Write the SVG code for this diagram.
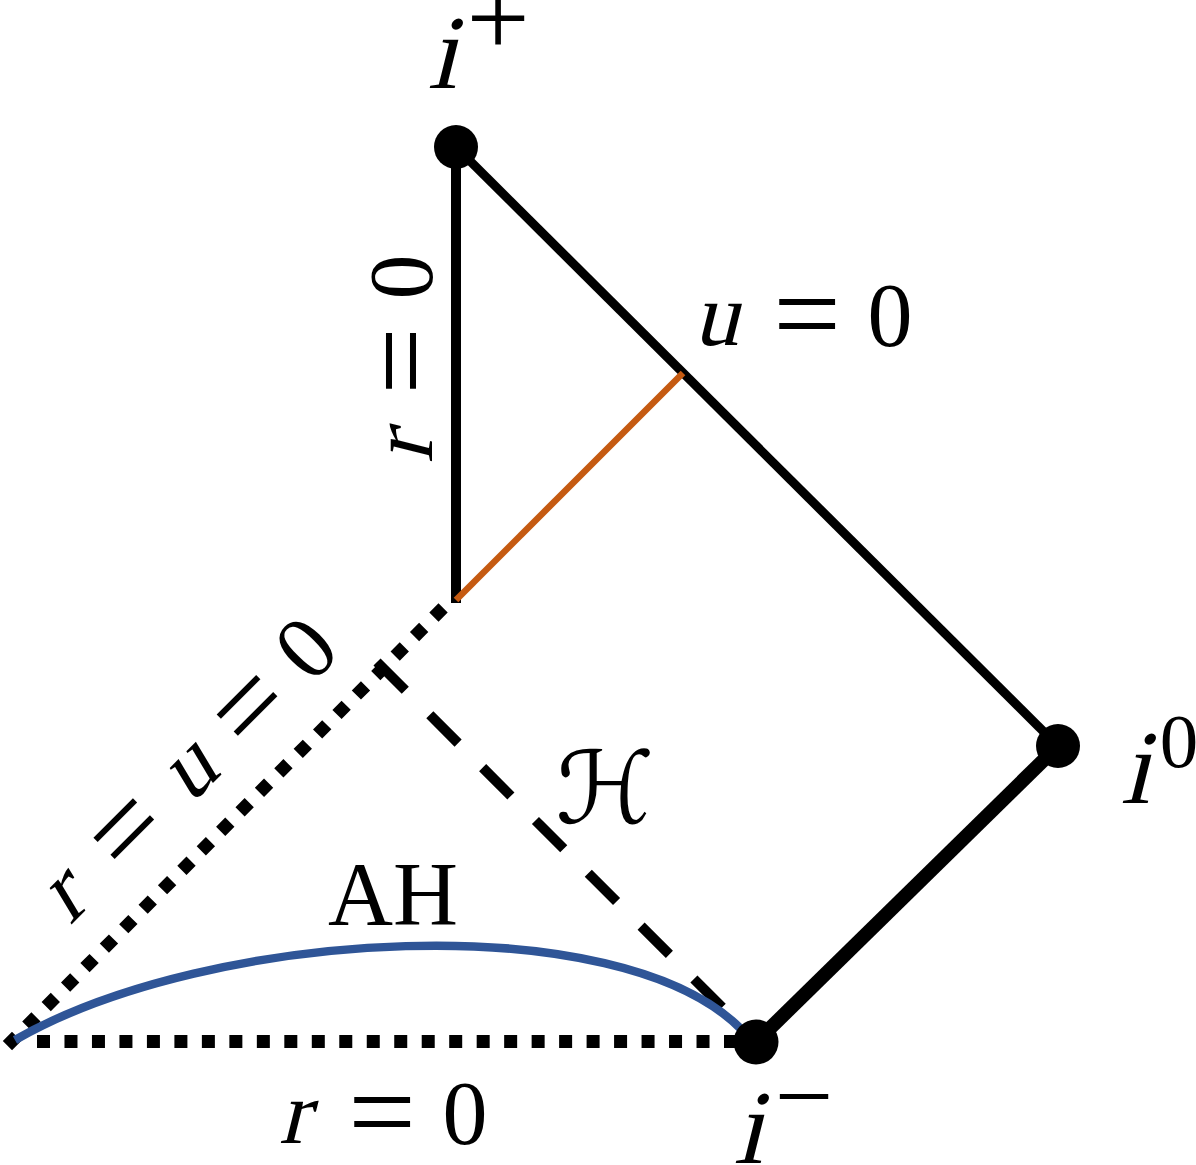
<svg xmlns="http://www.w3.org/2000/svg" width="1196" height="1165" viewBox="0 0 1196 1165">
<style>
.mi{font-family:"Liberation Serif","Times New Roman",serif;font-style:normal;fill:#000;text-anchor:middle}
.rm{font-family:"Liberation Serif","Times New Roman",serif;fill:#000;text-anchor:middle}
.dot{fill:#000}
.solid{stroke:#000;fill:none;stroke-linecap:butt}
.dotted{stroke:#000;fill:none;stroke-width:13;stroke-dasharray:13 14.48}
.dashed{stroke:#000;fill:none;stroke-width:10;stroke-dasharray:40 34.7}
</style>
<rect width="1196" height="1165" fill="#fff"/>
<g id="connectors">
  <line class="solid" x1="456" y1="147" x2="456" y2="603" stroke-width="10"/>
  <line class="solid" x1="456" y1="147" x2="1058" y2="746" stroke-width="9"/>
  <line class="solid" x1="1058" y1="746" x2="756" y2="1042" stroke-width="14"/>
  <line x1="456" y1="600" x2="683" y2="373" stroke="#c55a11" stroke-width="6.5"/>
  <path class="dotted" d="M443.1 607.9 L7.4 1045.6"/>
  <path class="dotted" d="M37 1041.5 L737 1041.5"/>
  <path class="dashed" d="M377 662 L740 1025"/>
  <path d="M15 1040 C210 928 620 905 742 1030" stroke="#2f5597" stroke-width="8.5" fill="none"/>
</g>
<g id="node-iplus">
  <circle class="dot" cx="456" cy="147" r="22"/>
  <text class="mi" transform="translate(442,88) skewX(-14)" font-size="105">i</text>
  <text class="rm" x="498" y="56" font-size="112">+</text>
</g>
<g id="node-izero">
  <circle class="dot" cx="1058" cy="746" r="22"/>
  <text class="mi" transform="translate(1135,803) skewX(-14)" font-size="105">i</text>
  <text class="rm" x="1179" y="767" font-size="77">0</text>
</g>
<g id="node-iminus">
  <circle class="dot" cx="756" cy="1042" r="22.5"/>
  <text class="mi" transform="translate(748,1163) skewX(-14)" font-size="105">i</text>
  <text class="rm" x="804" y="1131" font-size="104">−</text>
</g>
<g id="labels">
  <g id="label-u0">
    <text class="mi" transform="translate(716,345) skewX(-14)" font-size="90">u</text>
    <text class="rm" x="807" y="354" font-size="120">=</text>
    <text class="rm" x="890" y="346" font-size="90">0</text>
  </g>
  <g id="label-r0-bottom">
    <text class="mi" transform="translate(294,1143) skewX(-14)" font-size="90">r</text>
    <text class="rm" x="382" y="1152" font-size="120">=</text>
    <text class="rm" x="465" y="1144" font-size="90">0</text>
  </g>
  <g id="label-r0-vertical" transform="translate(432,0) rotate(-90)">
    <text class="mi" transform="translate(-448,0) skewX(-14)" font-size="90">r</text>
    <text class="rm" x="-361" y="9" font-size="120">=</text>
    <text class="rm" x="-277" y="0" font-size="90">0</text>
  </g>
  <g id="label-ru0" transform="translate(498,498) rotate(-45)">
    <text class="mi" transform="translate(-590,0) skewX(-14)" font-size="90">r</text>
    <text class="rm" x="-498.5" y="9" font-size="120">=</text>
    <text class="mi" transform="translate(-412,0) skewX(-14)" font-size="90">u</text>
    <text class="rm" x="-324.2" y="9" font-size="120">=</text>
    <text class="rm" x="-241.8" y="0" font-size="90">0</text>
  </g>
  <text id="label-AH" class="rm" x="393" y="925" font-size="90">AH</text>
  <text id="label-H" x="605" y="823" font-size="100" text-anchor="middle" style="font-family:'DejaVu Serif','DejaVu Sans',serif">ℋ</text>
</g>
</svg>
